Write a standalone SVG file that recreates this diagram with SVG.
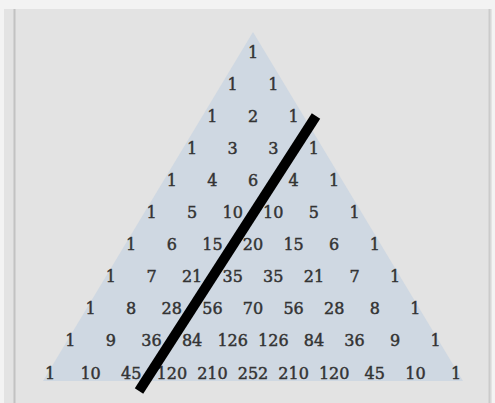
<svg xmlns="http://www.w3.org/2000/svg" width="495" height="403" viewBox="0 0 495 403">
<style>
.n{font-family:"DejaVu Serif",serif;font-size:16px;fill:#333;stroke:#333;stroke-width:0.45;text-anchor:middle}
</style>
<rect x="0" y="0" width="495" height="403" fill="#f3f3f3"/>
<rect x="4" y="9" width="488" height="394" fill="#e3e3e3"/>
<line x1="14.5" y1="9" x2="14.5" y2="403" stroke="#c2c2c2" stroke-width="2"/>
<line x1="489.5" y1="9" x2="489.5" y2="403" stroke="#cbcbcb" stroke-width="2"/>
<polygon id="triangle" points="253,32 43,381 463,381" fill="#cfd8e2"/>
<g id="numbers">
<g id="r0k0"><text class="n" x="253" y="57.5">1</text></g>
<g id="r1k0"><text class="n" x="232.7" y="89.6">1</text></g>
<g id="r1k1"><text class="n" x="273.3" y="89.6">1</text></g>
<g id="r2k0"><text class="n" x="212.4" y="121.7">1</text></g>
<g id="r2k1"><text class="n" x="253" y="121.7">2</text></g>
<g id="r2k2"><text class="n" x="293.6" y="121.7">1</text></g>
<g id="r3k0"><text class="n" x="192.1" y="153.8">1</text></g>
<g id="r3k1"><text class="n" x="232.7" y="153.8">3</text></g>
<g id="r3k2"><text class="n" x="273.3" y="153.8">3</text></g>
<g id="r3k3"><text class="n" x="313.9" y="153.8">1</text></g>
<g id="r4k0"><text class="n" x="171.8" y="185.9">1</text></g>
<g id="r4k1"><text class="n" x="212.4" y="185.9">4</text></g>
<g id="r4k2"><text class="n" x="253" y="185.9">6</text></g>
<g id="r4k3"><text class="n" x="293.6" y="185.9">4</text></g>
<g id="r4k4"><text class="n" x="334.2" y="185.9">1</text></g>
<g id="r5k0"><text class="n" x="151.5" y="218">1</text></g>
<g id="r5k1"><text class="n" x="192.1" y="218">5</text></g>
<g id="r5k2"><text class="n" x="232.7" y="218">10</text></g>
<g id="r5k3"><text class="n" x="273.3" y="218">10</text></g>
<g id="r5k4"><text class="n" x="313.9" y="218">5</text></g>
<g id="r5k5"><text class="n" x="354.5" y="218">1</text></g>
<g id="r6k0"><text class="n" x="131.2" y="250.1">1</text></g>
<g id="r6k1"><text class="n" x="171.8" y="250.1">6</text></g>
<g id="r6k2"><text class="n" x="212.4" y="250.1">15</text></g>
<g id="r6k3"><text class="n" x="253" y="250.1">20</text></g>
<g id="r6k4"><text class="n" x="293.6" y="250.1">15</text></g>
<g id="r6k5"><text class="n" x="334.2" y="250.1">6</text></g>
<g id="r6k6"><text class="n" x="374.8" y="250.1">1</text></g>
<g id="r7k0"><text class="n" x="110.9" y="282.2">1</text></g>
<g id="r7k1"><text class="n" x="151.5" y="282.2">7</text></g>
<g id="r7k2"><text class="n" x="192.1" y="282.2">21</text></g>
<g id="r7k3"><text class="n" x="232.7" y="282.2">35</text></g>
<g id="r7k4"><text class="n" x="273.3" y="282.2">35</text></g>
<g id="r7k5"><text class="n" x="313.9" y="282.2">21</text></g>
<g id="r7k6"><text class="n" x="354.5" y="282.2">7</text></g>
<g id="r7k7"><text class="n" x="395.1" y="282.2">1</text></g>
<g id="r8k0"><text class="n" x="90.6" y="314.3">1</text></g>
<g id="r8k1"><text class="n" x="131.2" y="314.3">8</text></g>
<g id="r8k2"><text class="n" x="171.8" y="314.3">28</text></g>
<g id="r8k3"><text class="n" x="212.4" y="314.3">56</text></g>
<g id="r8k4"><text class="n" x="253" y="314.3">70</text></g>
<g id="r8k5"><text class="n" x="293.6" y="314.3">56</text></g>
<g id="r8k6"><text class="n" x="334.2" y="314.3">28</text></g>
<g id="r8k7"><text class="n" x="374.8" y="314.3">8</text></g>
<g id="r8k8"><text class="n" x="415.4" y="314.3">1</text></g>
<g id="r9k0"><text class="n" x="70.3" y="346.4">1</text></g>
<g id="r9k1"><text class="n" x="110.9" y="346.4">9</text></g>
<g id="r9k2"><text class="n" x="151.5" y="346.4">36</text></g>
<g id="r9k3"><text class="n" x="192.1" y="346.4">84</text></g>
<g id="r9k4"><text class="n" x="232.7" y="346.4">126</text></g>
<g id="r9k5"><text class="n" x="273.3" y="346.4">126</text></g>
<g id="r9k6"><text class="n" x="313.9" y="346.4">84</text></g>
<g id="r9k7"><text class="n" x="354.5" y="346.4">36</text></g>
<g id="r9k8"><text class="n" x="395.1" y="346.4">9</text></g>
<g id="r9k9"><text class="n" x="435.7" y="346.4">1</text></g>
<g id="r10k0"><text class="n" x="50" y="378.5">1</text></g>
<g id="r10k1"><text class="n" x="90.6" y="378.5">10</text></g>
<g id="r10k2"><text class="n" x="131.2" y="378.5">45</text></g>
<g id="r10k3"><text class="n" x="171.8" y="378.5">120</text></g>
<g id="r10k4"><text class="n" x="212.4" y="378.5">210</text></g>
<g id="r10k5"><text class="n" x="253" y="378.5">252</text></g>
<g id="r10k6"><text class="n" x="293.6" y="378.5">210</text></g>
<g id="r10k7"><text class="n" x="334.2" y="378.5">120</text></g>
<g id="r10k8"><text class="n" x="374.8" y="378.5">45</text></g>
<g id="r10k9"><text class="n" x="415.4" y="378.5">10</text></g>
<g id="r10k10"><text class="n" x="456" y="378.5">1</text></g>
</g>
<g id="connectors">
<line x1="316" y1="116" x2="139" y2="391" stroke="#000" stroke-width="10" stroke-linecap="butt"/>
</g>
</svg>
